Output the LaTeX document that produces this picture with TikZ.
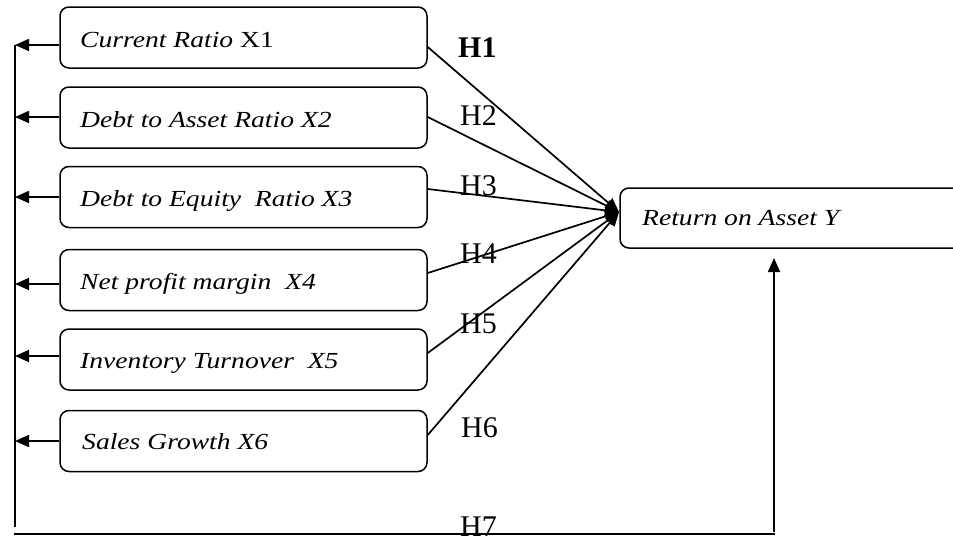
\documentclass[tikz,border=0pt]{standalone}
\usepackage{fontspec}
\setmainfont{Liberation Serif}
\usepackage{graphicx}
\usetikzlibrary{arrows.meta}
\newcommand{\stretchtxt}[1]{\scalebox{1.2}[1]{#1}}
\begin{document}
\begin{tikzpicture}[x=1pt,y=-1pt,
  box/.style={draw, line width=1.5pt, rounded corners=9pt, minimum width=367pt, minimum height=61pt, inner sep=0pt},
  con/.style={line width=1.7pt, -{Triangle[length=14pt,width=12pt]}},
  plain/.style={line width=1.7pt},
  btxt/.style={anchor=base west, inner sep=0pt, font=\fontsize{23}{26}\selectfont\itshape},
  hlab/.style={anchor=base west, inner sep=0pt, font=\fontsize{30}{34}\selectfont}]
\useasboundingbox (0,0) rectangle (953,541);
\clip (0,0) rectangle (953,541);

% left boxes
\node[box] (b1) at (243.5,37.5) {};
\node[box] (b2) at (243.5,117.5) {};
\node[box] (b3) at (243.5,197) {};
\node[box] (b4) at (243.5,280) {};
\node[box] (b5) at (243.5,359.5) {};
\node[box] (b6) at (243.5,441) {};
% right box
\node[box, minimum width=380pt, minimum height=60pt] (R) at (810,218) {};

% texts
\node[btxt] (t1) at (80,47) {\stretchtxt{Current Ratio \upshape X1}};
\node[btxt] (t2) at (80,127) {\stretchtxt{Debt to Asset Ratio X2}};
\node[btxt] (t3) at (80,206) {\stretchtxt{Debt to Equity \ Ratio X3}};
\node[btxt] (t4) at (80,289) {\stretchtxt{Net profit margin \ X4}};
\node[btxt] (t5) at (80,368) {\stretchtxt{Inventory Turnover \ X5}};
\node[btxt] (t6) at (82,449) {\stretchtxt{Sales Growth X6}};
\node[btxt] (tR) at (642,225) {\stretchtxt{Return on Asset Y}};

% hypothesis labels
\node[hlab, font=\fontsize{30}{34}\selectfont\bfseries] (h1) at (458,57) {H1};
\node[hlab] (h2) at (460,125) {H2};
\node[hlab] (h3) at (460,195) {H3};
\node[hlab] (h4) at (460,263) {H4};
\node[hlab] (h5) at (460,333) {H5};
\node[hlab] (h6) at (461,437) {H6};
\node[hlab] (h7) at (460,536) {H7};

% coordinates
\coordinate (c) at (619,212);
\coordinate (r1) at (427,47);
\coordinate (r2) at (427,117);
\coordinate (r3) at (427,189);
\coordinate (r4) at (427,273);
\coordinate (r5) at (427,353);
\coordinate (r6) at (428,435);
\coordinate (a1) at (15,45);
\coordinate (a2) at (15,117);
\coordinate (a3) at (15,197);
\coordinate (a4) at (15,284);
\coordinate (a5) at (15,356);
\coordinate (a6) at (15,441);
\coordinate (lb) at (15,527);
\coordinate (bl) at (14,534);
\coordinate (br) at (775,534);
\coordinate (rb) at (774,532);
\coordinate (up) at (774,258);

% arrows to Y
\foreach \i in {1,...,6} {
  \draw[con] (b\i.east |- r\i) -- (c);
}

% left feedback arrows
\foreach \i in {1,...,6} {
  \draw[con] (b\i.west |- a\i) -- (a\i);
}
\draw[plain] (a1) -- (lb);
\draw[plain] (bl) -- (br);
\draw[con] (rb) -- (up);
\end{tikzpicture}
\end{document}
